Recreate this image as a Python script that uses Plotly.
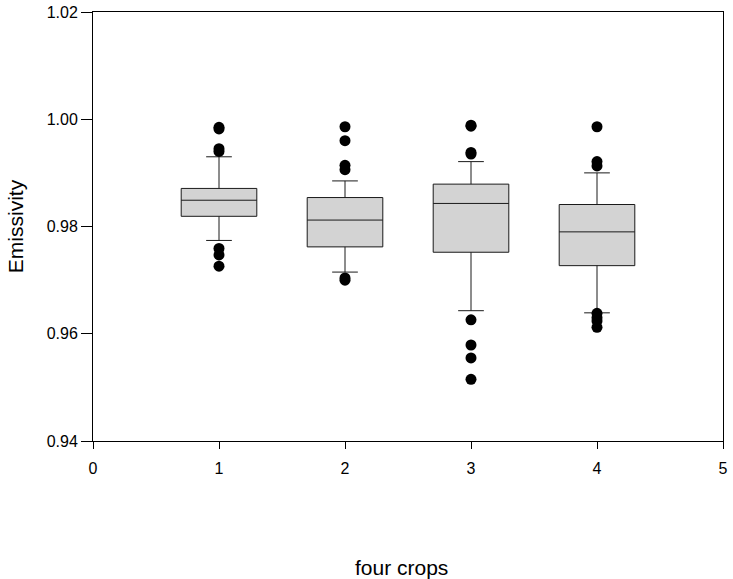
import plotly.graph_objects as go

# box statistics, one value per crop
crops = [1, 2, 3, 4]
q1 = [0.9819, 0.9762, 0.9752, 0.9727]
median = [0.9849, 0.9812, 0.9843, 0.9790]
q3 = [0.9871, 0.9854, 0.9879, 0.9841]
lowerfence = [0.9774, 0.9715, 0.9643, 0.9639]
upperfence = [0.9930, 0.9885, 0.9921, 0.9900]

# outliers
out_x = [1, 1, 1, 1, 1, 1, 1,
         2, 2, 2, 2, 2, 2,
         3, 3, 3, 3, 3, 3, 3, 3,
         4, 4, 4, 4, 4, 4, 4]
out_y = [0.9985, 0.9982, 0.9945, 0.9940, 0.9759, 0.9747, 0.9726,
         0.9986, 0.9960, 0.9914, 0.9906, 0.9704, 0.9700,
         0.9989, 0.9987, 0.9938, 0.9935, 0.9626, 0.9579, 0.9555, 0.9515,
         0.9986, 0.9921, 0.9913, 0.9638, 0.9630, 0.9624, 0.9612]

fig = go.Figure()
fig.add_trace(go.Box(x=crops, q1=q1, median=median, q3=q3,
                     lowerfence=lowerfence, upperfence=upperfence,
                     width=0.6, whiskerwidth=0.34, boxpoints=False,
                     fillcolor='#d3d3d3', line=dict(color='#1a1a1a', width=1),
                     showlegend=False))
fig.add_trace(go.Scatter(x=out_x, y=out_y, mode='markers',
                         marker=dict(color='black', size=11), showlegend=False))

fnt = 'Liberation Sans, Arial, sans-serif'
fig.update_layout(
    width=733, height=579,
    margin=dict(l=93, r=10, t=12, b=138),
    paper_bgcolor='white', plot_bgcolor='white',
    font=dict(family=fnt, size=16, color='black'),
    xaxis=dict(range=[0, 5], tickvals=[0, 1, 2, 3, 4, 5], showgrid=False, zeroline=False,
               showline=True, linecolor='black', linewidth=1, mirror=True,
               ticks='outside', ticklen=7, tickcolor='black', automargin=False,
               ticklabelstandoff=6),
    yaxis=dict(range=[0.94, 1.02], tickvals=[0.94, 0.96, 0.98, 1.00, 1.02],
               tickformat='.2f', showgrid=False, zeroline=False,
               showline=True, linecolor='black', linewidth=1, mirror=True,
               ticks='outside', ticklen=11, tickcolor='black', automargin=False,
               title=dict(text='Emissivity', font=dict(size=21), standoff=17)),
)
# x title sits a bit left of the plot centre in the original
fig.add_annotation(text='four crops', xref='paper', yref='paper', x=0.49, y=-0.294,
                   xanchor='center', yanchor='middle', showarrow=False,
                   font=dict(size=21))
fig.write_html('out.html', config={'displayModeBar': False},
               post_script="document.body.style.margin='0';")
